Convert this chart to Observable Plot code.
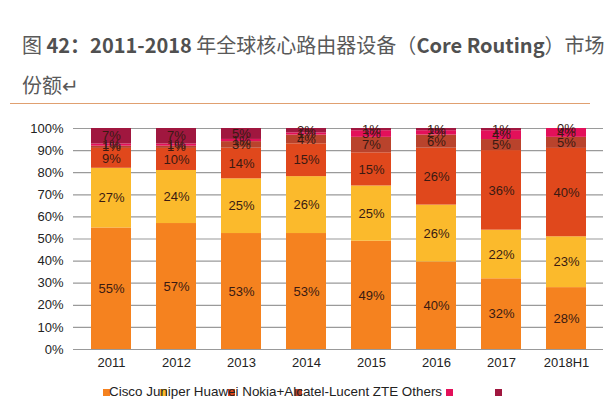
<!DOCTYPE html>
<html><head><meta charset="utf-8">
<script src="https://cdn.jsdelivr.net/npm/d3@7"></script>
<script src="https://cdn.jsdelivr.net/npm/@observablehq/plot@0.6"></script>
<style>
body{margin:0;background:#fff;width:610px;height:400px;overflow:hidden;position:relative;font-family:Arial,"Liberation Sans",sans-serif;}
.t{position:absolute;left:22px;font-family:"Noto Sans CJK SC",sans-serif;font-size:20px;color:#595959;white-space:nowrap;line-height:28px;}
.t b{font-weight:700;color:#505050;}
.rule{position:absolute;left:10px;width:580px;top:103px;height:1px;background:#e0a070;}
#chart{position:absolute;left:0;top:110px;}
.lg{position:absolute;top:384px;left:109px;font-size:13.4px;color:#222;white-space:nowrap;}
.sq{position:absolute;top:389px;width:7px;height:7px;}
</style></head>
<body>
<div class="t" style="top:31px">图 <b>42：2011-2018</b> 年全球核心路由器设备（<b>Core Routing</b>）市场</div>
<div class="t" style="top:71px">份额↵</div>
<div class="rule"></div>
<div id="chart"></div>
<div id="legend"></div>
<script>
const years = ["2011","2012","2013","2014","2015","2016","2017","2018H1"];
const series = ["Cisco","Juniper","Huawei","Nokia+Alcatel-Lucent","ZTE","Others"];
const colors = ["#F5821F","#FBBA2C","#E0481C","#B9432C","#E3105A","#A0173F"];
const cisco   = [55,57,53,53,49,40,32,28];
const juniper = [27,24,25,26,25,26,22,23];
const huawei  = [9,10,14,15,15,26,36,40];
const nokia   = [1,1,3,4,7,6,5,5];
const zte     = [1,1,1,1,3,2,4,4];
const others  = [7,7,5,2,1,1,1,0];
const yTicks = [0,10,20,30,40,50,60,70,80,90,100];

const cols = [cisco,juniper,huawei,nokia,zte,others];
const data = [];
series.forEach((s,i)=>years.forEach((y,j)=>data.push({year:y,series:s,value:cols[i][j]})));

const chart = Plot.plot({
  width:610, height:270,
  marginLeft:73, marginRight:7, marginTop:18, marginBottom:31,
  x:{domain:years, paddingInner:0.39, paddingOuter:0.23, label:null},
  y:{domain:[0,1], label:null},
  color:{domain:series, range:colors},
  style:{fontFamily:"Arial, 'Liberation Sans', sans-serif", fontSize:"13px", color:"#222"},
  marks:[
    Plot.gridY(yTicks.map(d=>d/100),{stroke:"#9a9a9a",strokeOpacity:1,strokeWidth:1.2}),
    Plot.barY(data, Plot.stackY({offset:"normalize", order:null}, {x:"year", y:"value", fill:"series"})),
    Plot.text(data, Plot.stackY({offset:"normalize", order:null}, {x:"year", y:"value", text:d=>d.value+"%", fill:"#3a1a12", fontSize:13})),
    Plot.ruleX([0],{frameAnchor:"left", stroke:"#999"}),
    Plot.ruleY([0],{stroke:"#999"}),
    Plot.axisY({ticks:yTicks.map(d=>d/100), tickFormat:d=>Math.round(d*100)+"%", tickSize:0, tickPadding:10, fontSize:13}),
    Plot.axisX({tickSize:0, tickPadding:8, fontSize:13})
  ]
});
document.getElementById("chart").appendChild(chart);

const lg = document.getElementById("legend");
const sqX = [103,160,228,295,446,495];
series.forEach((s,i)=>{
  const d=document.createElement("div");
  d.className="sq"; d.style.left=sqX[i]+"px"; d.style.background=colors[i];
  lg.appendChild(d);
});
const t=document.createElement("div");
t.className="lg"; t.textContent=series.join(" ");
lg.appendChild(t);
</script>
</body></html>
